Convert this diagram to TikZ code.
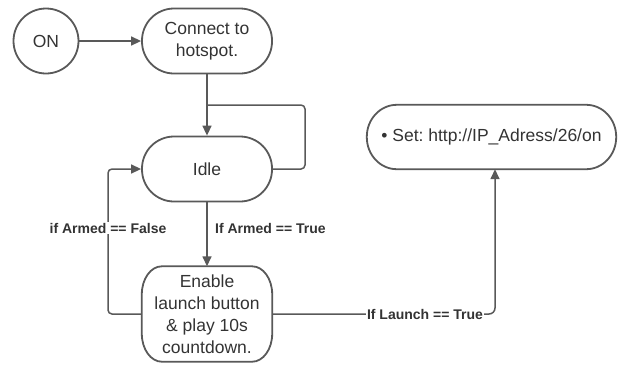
\documentclass[tikz,border=0pt]{standalone}
\usepackage{fontspec}
\setmainfont{Liberation Sans}
\usetikzlibrary{arrows.meta,calc}
\definecolor{edge}{HTML}{595959}
\definecolor{ink}{HTML}{333333}
\frenchspacing
% outline with elliptical corners around a node: #1 node, #2 x radius, #3 y radius
\newcommand\ovalframe[3]{%
  \draw[frame] ($(#1.north west)+(#2,0)$) -- ($(#1.north east)+(-#2,0)$)
    .. controls ($(#1.north east)+(-0.448*#2,0)$) and ($(#1.north east)+(0,0.448*#3)$) .. ($(#1.north east)+(0,#3)$)
    -- ($(#1.south east)+(0,-#3)$)
    .. controls ($(#1.south east)+(0,-0.448*#3)$) and ($(#1.south east)+(-0.448*#2,0)$) .. ($(#1.south east)+(-#2,0)$)
    -- ($(#1.south west)+(#2,0)$)
    .. controls ($(#1.south west)+(0.448*#2,0)$) and ($(#1.south west)+(0,-0.448*#3)$) .. ($(#1.south west)+(0,-#3)$)
    -- ($(#1.north west)+(0,#3)$)
    .. controls ($(#1.north west)+(0,0.448*#3)$) and ($(#1.north west)+(0.448*#2,0)$) .. cycle;}
\begin{document}
\begin{tikzpicture}[x=1pt,y=-1pt,
  frame/.style={draw=edge, line width=1.8pt},
  label/.style={text=ink, align=center, inner sep=0pt, font=\fontsize{17.5}{22}\selectfont},
  box/.style={label, frame},
  pill/.style={box, rounded corners=32pt, minimum height=65pt, minimum width=130pt},
  wire/.style={draw=edge, line width=1.5pt},
  arr/.style={wire, -{Triangle[length=10pt,width=9pt]}},
  cond/.style={text=ink, font=\fontsize{14}{16}\bfseries\selectfont, inner sep=1pt, fill=white}
]
\useasboundingbox (0,0) rectangle (618,365);

% states
\node[box, circle, minimum size=65pt] (on) at (46,41) {ON};
\node[pill] (hot) at (207,41) {Connect to\\hotspot.};
\node[pill] (idle) at (207,169) {Idle};
\node[label, minimum width=130pt, minimum height=95pt] (en) at (207,314)
  {Enable\\launch button\\\& play 10s\\countdown.};
\ovalframe{en}{20}{28}
\node[label, minimum width=249pt, minimum height=64pt] (set) at (491.5,137)
  {• Set: http://IP\_Adress/26/on};
\ovalframe{set}{30}{32}

% transitions
\draw[arr] (on) -- (hot);
\draw[arr] (hot) -- (idle);
\coordinate (loopend) at (207,105);
\draw[wire, rounded corners=4pt] (idle.east) -- (305,169) |- (loopend);
\draw[arr] (idle) -- (en);
\draw[arr, rounded corners=4pt] (en.west) -- (108,314) |- (idle.west);
\draw[arr, rounded corners=6pt] (en.east) -| ([xshift=3.5pt]set.south);

% conditions
\node[cond, fill=none, anchor=west] (armT) at (214,228) {If Armed == True};
\node[cond] (armF) at (108,228) {if Armed == False};
\node[cond] (launch) at (425,314) {If Launch == True};
\end{tikzpicture}
\end{document}
